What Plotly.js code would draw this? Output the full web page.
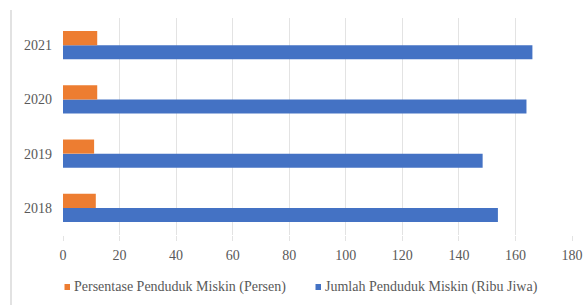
<!DOCTYPE html>
<html>
<head>
<meta charset="utf-8">
<script src="https://cdn.plot.ly/plotly-3.0.1.min.js"></script>
<style>
html,body{margin:0;padding:0;background:#fff;}
#chart{width:586px;height:305px;}
</style>
</head>
<body>
<div id="chart"></div>
<script>
const years = ['2018', '2019', '2020', '2021'];
const persentase = [11.6, 11.0, 12.1, 12.1];
const jumlah = [153.8, 148.4, 163.9, 166.0];
const xTicks = [0, 20, 40, 60, 80, 100, 120, 140, 160, 180];
const seriesNames = ['Persentase Penduduk Miskin (Persen)', 'Jumlah Penduduk Miskin (Ribu Jiwa)'];

const ORANGE = '#ED7D31';
const BLUE = '#4472C4';
const FONT = 'Liberation Serif';
const TXT = '#595959';

const W = 586, H = 305;
const M = {l: 63, r: 14, t: 18, b: 70};
const pw = W - M.l - M.r, ph = H - M.t - M.b;
const px2x = p => (p - M.l) / pw;
const py2y = p => (H - M.b - p) / ph;

const traces = [
  {type: 'bar', orientation: 'h', y: years, x: jumlah, name: seriesNames[1],
   marker: {color: BLUE}, showlegend: false, hoverinfo: 'x'},
  {type: 'bar', orientation: 'h', y: years, x: persentase, name: seriesNames[0],
   marker: {color: ORANGE}, showlegend: false, hoverinfo: 'x'}
];

const legY = py2y(287);
const layout = {
  width: W, height: H,
  margin: M,
  paper_bgcolor: '#fff', plot_bgcolor: '#fff',
  barmode: 'group', bargap: 0.48, bargroupgap: 0,
  showlegend: false,
  font: {family: FONT, size: 14, color: TXT},
  xaxis: {
    range: [0, 180], tickvals: xTicks, ticktext: xTicks.map(String),
    showgrid: true, gridcolor: '#e3e3e3', gridwidth: 1,
    zeroline: false, showline: false,
    ticks: 'outside', ticklen: 5, tickcolor: '#e3e3e3',
    ticklabelstandoff: 2,
    tickfont: {family: FONT, size: 14, color: TXT}, fixedrange: true
  },
  yaxis: {
    type: 'category', categoryorder: 'array', categoryarray: years,
    showgrid: false, zeroline: false, showline: false, ticks: '',
    ticklabelstandoff: 10,
    tickfont: {family: FONT, size: 14, color: TXT}, fixedrange: true
  },
  shapes: [
    {type: 'line', xref: 'paper', yref: 'paper', x0: px2x(11), x1: px2x(11),
     y0: py2y(10), y1: py2y(305), line: {color: '#d9d9d9', width: 1.5}},
    {type: 'rect', xref: 'paper', yref: 'paper', x0: px2x(64.5), x1: px2x(70),
     y0: py2y(284), y1: py2y(290), fillcolor: ORANGE, line: {width: 0}},
    {type: 'rect', xref: 'paper', yref: 'paper', x0: px2x(315.5), x1: px2x(321),
     y0: py2y(284), y1: py2y(290), fillcolor: BLUE, line: {width: 0}}
  ],
  annotations: [
    {xref: 'paper', yref: 'paper', x: px2x(72), y: legY, xanchor: 'left', yanchor: 'middle',
     text: seriesNames[0], showarrow: false, font: {family: FONT, size: 14, color: TXT}},
    {xref: 'paper', yref: 'paper', x: px2x(323), y: legY, xanchor: 'left', yanchor: 'middle',
     text: seriesNames[1], showarrow: false, font: {family: FONT, size: 14, color: TXT}}
  ]
};

Plotly.newPlot('chart', traces, layout, {displayModeBar: false, staticPlot: true});
</script>
</body>
</html>
